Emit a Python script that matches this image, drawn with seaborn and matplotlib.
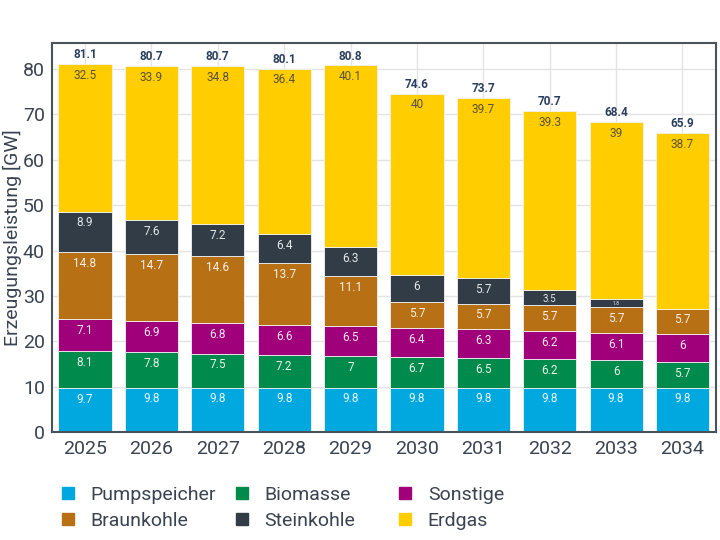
"""Stacked capacity chart: Erzeugungsleistung by source, 2025-2034."""

import matplotlib

matplotlib.use("Agg")

import matplotlib.pyplot as plt
import numpy as np
import seaborn as sns
from matplotlib.lines import Line2D

YEARS = ["2025", "2026", "2027", "2028", "2029", "2030", "2031", "2032", "2033", "2034"]

PUMPSPEICHER = [9.7, 9.8, 9.8, 9.8, 9.8, 9.8, 9.8, 9.8, 9.8, 9.8]
BIOMASSE = [8.1, 7.8, 7.5, 7.2, 7.0, 6.7, 6.5, 6.2, 6.0, 5.7]
SONSTIGE = [7.1, 6.9, 6.8, 6.6, 6.5, 6.4, 6.3, 6.2, 6.1, 6.0]
BRAUNKOHLE = [14.8, 14.7, 14.6, 13.7, 11.1, 5.7, 5.7, 5.7, 5.7, 5.7]
STEINKOHLE = [8.9, 7.6, 7.2, 6.4, 6.3, 6.0, 5.7, 3.5, 1.8, 0.0]
ERDGAS = [32.5, 33.9, 34.8, 36.4, 40.1, 40.0, 39.7, 39.3, 39.0, 38.7]
TOTALS = [81.1, 80.7, 80.7, 80.1, 80.8, 74.6, 73.7, 70.7, 68.4, 65.9]

# (name, values, fill colour, label colour)
_LAYERS = [
    ("Pumpspeicher", PUMPSPEICHER, "#00a8e0", "#e8f6fc"),
    ("Biomasse", BIOMASSE, "#008b4c", "#e6f3ec"),
    ("Sonstige", SONSTIGE, "#a0007a", "#f6e6f1"),
    ("Braunkohle", BRAUNKOHLE, "#b87015", "#f8efe4"),
    ("Steinkohle", STEINKOHLE, "#323c46", "#e4e6e8"),
    ("Erdgas", ERDGAS, "#ffcd00", "#5a5238"),
]

TEXT_COLOR = "#3a4350"
TOTAL_COLOR = "#2a3f5f"


def _apply_style() -> None:
    sns.set_theme(style="whitegrid")
    plt.rcParams.update(
        {
            "font.family": ["Roboto", "DejaVu Sans"],
            "figure.dpi": 100,
            "savefig.dpi": 100,
            "axes.edgecolor": "#4a525c",
            "axes.linewidth": 1.5,
            "grid.color": "#e4e4e4",
            "grid.linewidth": 1.0,
        }
    )


def main() -> None:
    _apply_style()
    fig = plt.figure(figsize=(7.2, 5.4))
    ax = fig.add_axes([0.072, 0.2, 0.922, 0.72])

    bottom = np.zeros(len(YEARS))
    for name, vals, color, txt_color in _LAYERS:
        vals = np.asarray(vals, dtype=float)
        sns.barplot(
            x=YEARS,
            y=vals,
            bottom=bottom,
            color=color,
            width=0.8,
            errorbar=None,
            saturation=1,
            edgecolor="#f2f2f2",
            linewidth=0.6,
            ax=ax,
        )
        bar_patches = ax.patches[-len(YEARS):]
        for patch, v in zip(bar_patches, vals):
            if v <= 0:
                continue
            size = min(8.5, v * 2.0)
            ax.annotate(
                f"{v:g}",
                (patch.get_x() + patch.get_width() / 2, patch.get_y() + patch.get_height()),
                xytext=(0, -3.5 if v > 2 else -1.5),
                textcoords="offset points",
                ha="center",
                va="top",
                fontsize=size,
                color=txt_color,
            )
        bottom += vals

    for i, tot in enumerate(TOTALS):
        ax.annotate(
            f"{tot:g}",
            (i, bottom[i]),
            xytext=(0, 2),
            textcoords="offset points",
            ha="center",
            va="bottom",
            fontsize=8.5,
            fontweight="bold",
            color=TOTAL_COLOR,
        )

    ax.set_xlim(-0.5, len(YEARS) - 0.5)
    ax.set_ylim(0, 85.7)
    ax.set_yticks(np.arange(0, 81, 10))
    ax.set_axisbelow(True)
    ax.grid(True, axis="both")
    for spine in ax.spines.values():
        spine.set_visible(True)
        spine.set_color("#4a525c")
        spine.set_linewidth(1.5)
    ax.set_xlabel("")
    ax.set_ylabel("Erzeugungsleistung [GW]", fontsize=14, color=TEXT_COLOR)
    ax.yaxis.set_label_coords(-0.045, 0.5)
    ax.tick_params(axis="both", length=0, labelsize=14, colors=TEXT_COLOR)
    ax.tick_params(axis="x", pad=6)
    ax.tick_params(axis="y", pad=5)

    # Legend laid out row-wise in three fixed columns
    col_x = [0.060, 0.301, 0.528]
    for k, x0 in enumerate(col_x):
        handles = []
        for name, _, color, _ in (_LAYERS[k], _LAYERS[k + 3]):
            handles.append(
                Line2D([], [], marker="s", linestyle="", markersize=8,
                       color=color, label=name)
            )
        fig.legend(
            handles=handles,
            loc="upper left",
            bbox_to_anchor=(x0, 0.132),
            frameon=False,
            fontsize=14,
            handlelength=0.8,
            handletextpad=0.75,
            labelspacing=0.4,
            labelcolor=TEXT_COLOR,
        )

    fig.savefig("out.png")
    plt.close(fig)


if __name__ == "__main__":
    main()
